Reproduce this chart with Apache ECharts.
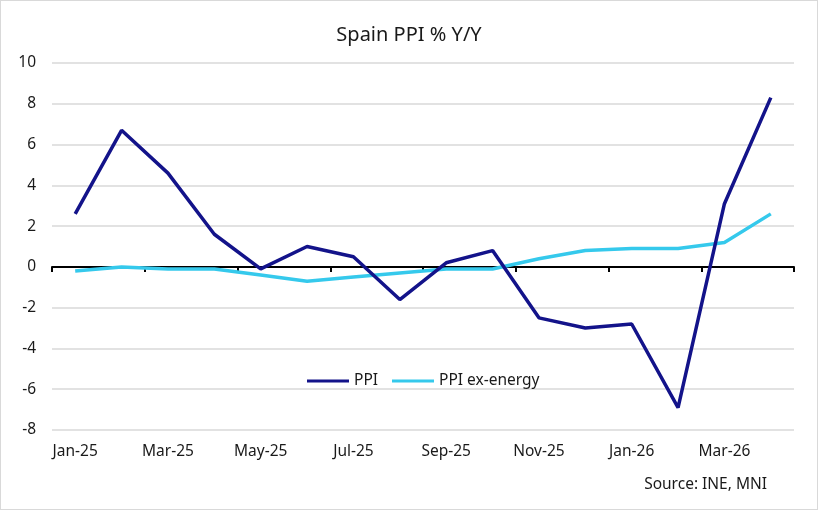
<!DOCTYPE html>
<html>
<head>
<meta charset="utf-8">
<script src="https://cdn.jsdelivr.net/npm/echarts@6/dist/echarts.min.js"></script>
<style>
  html, body { margin: 0; padding: 0; background: #fff; }
  #chart { width: 816px; height: 508px; border: 1px solid #d9d9d9; }
</style>
</head>
<body>
<div id="chart"></div>
<script>
// Spain PPI y/y, monthly Jan-25 .. Apr-26
const months = ["Jan-25", "Feb-25", "Mar-25", "Apr-25", "May-25", "Jun-25", "Jul-25", "Aug-25",
  "Sep-25", "Oct-25", "Nov-25", "Dec-25", "Jan-26", "Feb-26", "Mar-26", "Apr-26"];
const ppi = [2.6, 6.7, 4.6, 1.6, -0.1, 1.0, 0.5, -1.6, 0.2, 0.8, -2.5, -3.0, -2.8, -6.9, 3.1, 8.3];
const ppiExEnergy = [-0.2, 0.0, -0.1, -0.1, -0.4, -0.7, -0.5, -0.3, -0.1, -0.1, 0.4, 0.8, 0.9, 0.9, 1.2, 2.6];

const FONT = "Noto Sans, sans-serif";
const NAVY = "#13138a";
const CYAN = "#35c9ec";

const chart = echarts.init(document.getElementById("chart"), null, { renderer: "canvas" });
chart.setOption({
  animation: false,
  textStyle: { fontFamily: FONT, color: "#1a1a1a" },
  title: {
    text: "Spain PPI % Y/Y",
    left: "center",
    top: 19,
    textStyle: { fontFamily: FONT, fontSize: 20, fontWeight: "normal", color: "#1a1a1a" },
  },
  legend: {
    left: 301,
    top: 367,
    itemWidth: 42,
    itemHeight: 3,
    itemGap: 14,
    icon: "rect",
    textStyle: { fontFamily: FONT, fontSize: 15.5, color: "#1a1a1a" },
    data: ["PPI", "PPI ex-energy"],
  },
  graphic: [{
    type: "text",
    right: 50,
    top: 476,
    style: { text: "Source: INE, MNI", font: "15.5px " + FONT, fill: "#1a1a1a" },
  }],
  grid: { left: 51, right: 23, top: 62, bottom: 79 },
  xAxis: [
    {
      type: "category",
      data: months,
      boundaryGap: true,
      axisLine: { onZero: true, lineStyle: { color: "#000", width: 2 } },
      axisTick: { show: true, interval: 1, length: 5, lineStyle: { color: "#000", width: 2 } },
      axisLabel: { show: false },
      splitLine: { show: false },
    },
    {
      type: "category",
      data: months,
      position: "bottom",
      boundaryGap: true,
      axisLine: { show: false, onZero: false },
      axisTick: { show: false },
      axisLabel: { interval: 1, margin: 14, fontSize: 15.5, fontFamily: FONT, color: "#1a1a1a" },
    },
  ],
  yAxis: {
    type: "value",
    min: -8,
    max: 10,
    interval: 2,
    axisLine: { show: false },
    axisTick: { show: false },
    axisLabel: { margin: 16, fontSize: 15.5, fontFamily: FONT, color: "#1a1a1a" },
    splitLine: { lineStyle: { color: "#d9d9d9", width: 1.5 } },
  },
  series: [
    {
      name: "PPI",
      type: "line",
      data: ppi,
      symbol: "none",
      lineStyle: { color: NAVY, width: 3.5 },
      itemStyle: { color: NAVY },
      z: 3,
    },
    {
      name: "PPI ex-energy",
      type: "line",
      data: ppiExEnergy,
      symbol: "none",
      lineStyle: { color: CYAN, width: 3.5 },
      itemStyle: { color: CYAN },
      z: 2,
    },
  ],
});
</script>
</body>
</html>
